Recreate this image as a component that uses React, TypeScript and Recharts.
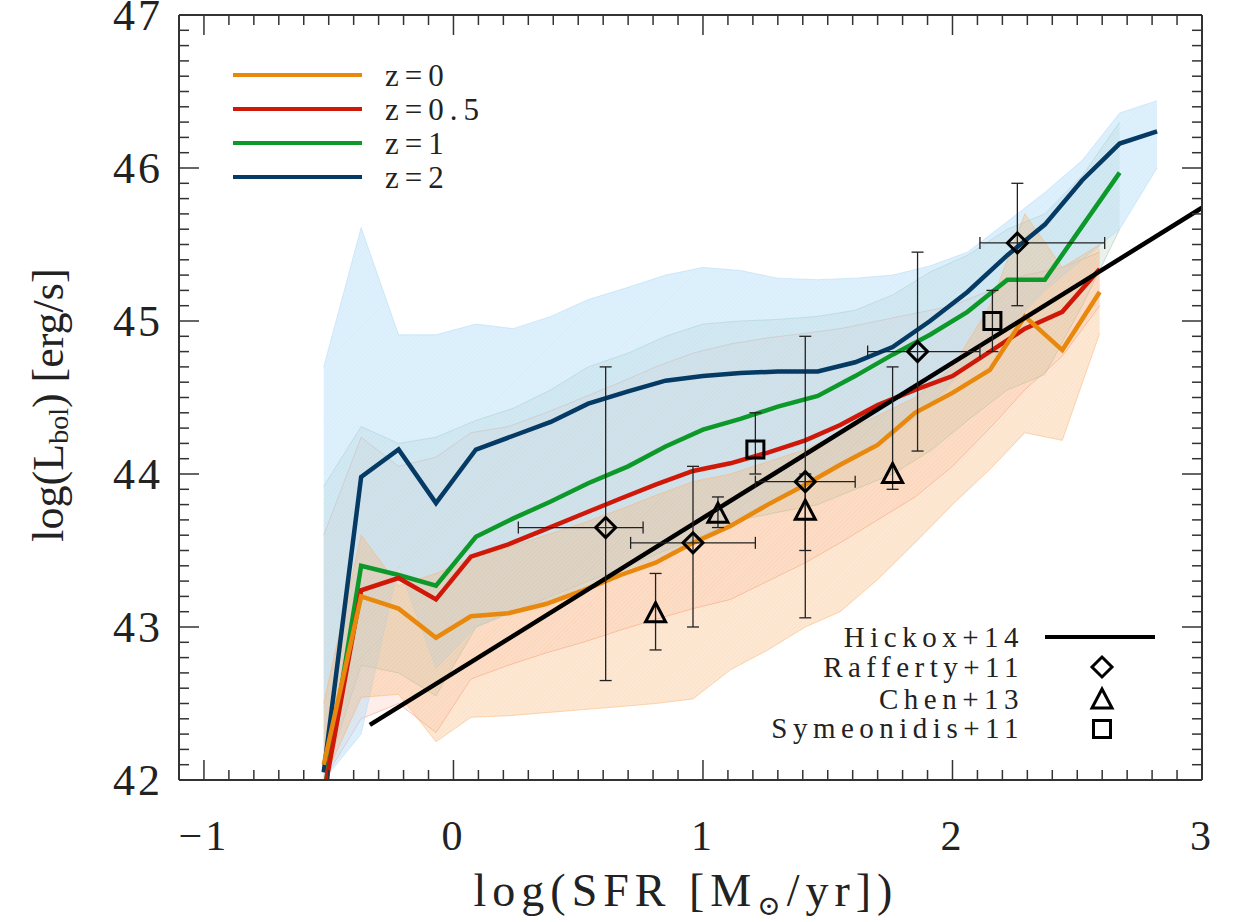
import React from 'react';
import { ComposedChart, Line, Area, Scatter, XAxis, YAxis, ErrorBar } from 'recharts';

const W = 1242;
const H = 922;
const FONT = "'Liberation Serif', 'DejaVu Serif', 'Times New Roman', serif";
const AXIS = '#333';

// SFR grid of the z=1 and z=2 runs
const xHighZ = [-0.52, -0.37, -0.22, -0.07, 0.09, 0.24, 0.39, 0.54, 0.7, 0.85, 1.0, 1.15, 1.3, 1.46, 1.61, 1.76, 1.91, 2.06, 2.22, 2.37, 2.52, 2.67, 2.82];
// SFR grid of the z=0 and z=0.5 runs
const xLowZ = [-0.52, -0.37, -0.22, -0.07, 0.07, 0.22, 0.37, 0.52, 0.67, 0.81, 0.96, 1.11, 1.26, 1.41, 1.55, 1.7, 1.85, 2.0, 2.15, 2.29, 2.44, 2.59];

const z2 = [42.05, 43.98, 44.16, 43.81, 44.16, 44.25, 44.34, 44.46, 44.54, 44.61, 44.64, 44.66, 44.67, 44.67, 44.73, 44.83, 45.0, 45.19, 45.43, 45.63, 45.92, 46.16, 46.24];
const z2Hi = [44.7, 45.61, 44.91, 44.91, 44.98, 44.95, 45.03, 45.14, 45.22, 45.3, 45.35, 45.33, 45.28, 45.27, 45.28, 45.3, 45.36, 45.45, 45.65, 45.84, 46.05, 46.36, 46.44];
const z2Lo = [42.0, 42.3, 43.4, 42.73, 43.0, 43.1, 43.18, 43.27, 43.38, 43.47, 43.6, 43.72, 43.85, 43.97, 44.1, 44.25, 44.45, 44.7, 44.95, 45.2, 45.4, 45.6, 46.0];

const z1 = [41.9, 43.4, 43.34, 43.27, 43.59, 43.71, 43.82, 43.94, 44.05, 44.18, 44.29, 44.36, 44.44, 44.51, 44.64, 44.78, 44.91, 45.06, 45.27, 45.27, 45.62, 45.97];
const z1Hi = [43.92, 44.31, 44.2, 44.24, 44.35, 44.43, 44.55, 44.7, 44.79, 44.9, 44.98, 45.0, 45.01, 45.03, 45.07, 45.17, 45.32, 45.43, 45.6, 45.7, 45.95, 46.3];
const z1Lo = [42.0, 42.75, 42.7, 42.55, 43.0, 43.1, 43.2, 43.3, 43.4, 43.5, 43.6, 43.7, 43.75, 43.8, 43.9, 44.0, 44.15, 44.35, 44.55, 44.65, 45.1, 45.6];

const z05 = [41.9, 43.24, 43.32, 43.18, 43.46, 43.54, 43.64, 43.74, 43.84, 43.93, 44.02, 44.07, 44.14, 44.22, 44.32, 44.45, 44.55, 44.64, 44.8, 44.95, 45.06, 45.34];
const z05Hi = [43.6, 44.24, 44.05, 44.11, 44.27, 44.31, 44.4, 44.5, 44.6, 44.7, 44.79, 44.85, 44.89, 44.92, 44.95, 45.0, 45.05, 45.1, 45.2, 45.3, 45.35, 45.45];
const z05Lo = [42.0, 42.4, 42.5, 42.31, 42.66, 42.75, 42.83, 42.9, 42.98, 43.05, 43.12, 43.18, 43.3, 43.42, 43.55, 43.7, 43.85, 44.05, 44.3, 44.55, 44.77, 45.1];

const z0 = [42.1, 43.2, 43.12, 42.93, 43.07, 43.09, 43.15, 43.24, 43.34, 43.42, 43.55, 43.66, 43.8, 43.93, 44.06, 44.19, 44.4, 44.53, 44.68, 45.03, 44.81, 45.19];
const z0Hi = [42.5, 43.6, 43.27, 43.35, 43.45, 43.52, 43.6, 43.68, 43.77, 43.86, 43.95, 44.0, 44.08, 44.16, 44.27, 44.38, 44.5, 44.7, 45.1, 45.7, 45.35, 45.5];
const z0Lo = [42.0, 42.54, 42.56, 42.25, 42.41, 42.42, 42.44, 42.46, 42.48, 42.5, 42.53, 42.72, 42.85, 43.0, 43.1, 43.31, 43.55, 43.8, 44.03, 44.27, 44.22, 44.92];

// Hickox+14 relation, end points
const hickoxX = [-0.335, 3.0];
const hickoxY = [42.36, 45.74];

// observations: x, y, x error [lo, hi], y error [lo, hi]
const rafferty = [
  { x: 0.61, y: 43.65, ex: [0.35, 0.15], ey: [1.0, 1.05] },
  { x: 0.96, y: 43.55, ex: [0.25, 0.25], ey: [0.55, 0.5] },
  { x: 1.41, y: 43.95, ex: [0.2, 0.2], ey: [0.89, 0.95] },
  { x: 1.86, y: 44.8, ex: [0.2, 0.25], ey: [0.65, 0.65] },
  { x: 2.26, y: 45.51, ex: [0.15, 0.35], ey: [0.41, 0.39] },
];
const chen = [
  { x: 0.81, y: 43.08, ey: [0.23, 0.27] },
  { x: 1.06, y: 43.73, ey: [0.08, 0.12] },
  { x: 1.41, y: 43.75, ey: [0.25, 0.25] },
  { x: 1.76, y: 43.99, ey: [0.09, 0.71] },
];
const symeonidis = [
  { x: 1.21, y: 44.16, ey: [0.16, 0.24] },
  { x: 2.16, y: 45.0, ey: [0.2, 0.2] },
];

const xMajor = [-1, 0, 1, 2, 3];
const yMajor = [42, 43, 44, 45, 46, 47];

const series = [
  { key: 'z0', label: 'z=0', color: '#E8880C', band: '#F9B270', op: 0.35 },
  { key: 'z05', label: 'z=0.5', color: '#D01808', band: '#F7907A', op: 0.17 },
  { key: 'z1', label: 'z=1', color: '#0C992A', band: '#9CC4AE', op: 0.24 },
  { key: 'z2', label: 'z=2', color: '#043A64', band: '#B0DAF6', op: 0.5 },
];
// bands painted red, green, blue, then orange on top
const bandOrder = ['z05', 'z1', 'z2', 'z0'];

// merged table on the union of x values
const rowMap = new Map<string, any>();
const put = (xs: number[], key: string, vals: any[]) => {
  xs.forEach((x, i) => {
    if (i >= vals.length) return;
    const k = x.toFixed(3);
    const r = rowMap.get(k) ?? { x };
    r[key] = vals[i];
    rowMap.set(k, r);
  });
};
put(xLowZ, 'z0', z0);
put(xLowZ, 'z0band', z0Lo.map((l, i) => [l, z0Hi[i]]));
put(xLowZ, 'z05', z05);
put(xLowZ, 'z05band', z05Lo.map((l, i) => [l, z05Hi[i]]));
put(xHighZ, 'z1', z1);
put(xHighZ, 'z1band', z1Lo.map((l, i) => [l, z1Hi[i]]));
put(xHighZ, 'z2', z2);
put(xHighZ, 'z2band', z2Lo.map((l, i) => [l, z2Hi[i]]));
put(hickoxX, 'hickox', hickoxY);
const table = Array.from(rowMap.values()).sort((a, b) => a.x - b.x);

const xTicks: number[] = [];
for (let i = -10; i <= 30; i++) xTicks.push(i / 10);
const yTicks: number[] = [];
for (let i = 420; i <= 470; i++) yTicks.push(i / 10);

const isMajor = (v: number) => Math.abs(v - Math.round(v)) < 1e-6;
const fmt = (v: number) => (v < 0 ? '\u2212' : '') + Math.abs(Math.round(v));
const txt = { fontFamily: FONT, fill: '#222' } as React.CSSProperties;

const tickBottom = (p: any) => {
  const { x, y, payload } = p;
  const major = isMajor(payload.value);
  return (
    <g>
      <line x1={x} x2={x} y1={y} y2={y - (major ? 20 : 10)} stroke={AXIS} strokeWidth={1.5} />
      {major && xMajor.includes(Math.round(payload.value)) && (
        <text x={x} y={y + 56} textAnchor="middle" dominantBaseline="central" fontSize={42} letterSpacing={3} style={txt}>
          {fmt(payload.value)}
        </text>
      )}
    </g>
  );
};
const tickTop = (p: any) => {
  const { x, y, payload } = p;
  const major = isMajor(payload.value);
  return <line x1={x} x2={x} y1={y} y2={y + (major ? 20 : 10)} stroke={AXIS} strokeWidth={1.5} />;
};
const tickLeft = (p: any) => {
  const { x, y, payload } = p;
  const major = isMajor(payload.value);
  return (
    <g>
      <line x1={x} x2={x + (major ? 20 : 10)} y1={y} y2={y} stroke={AXIS} strokeWidth={1.5} />
      {major && yMajor.includes(Math.round(payload.value)) && (
        <text x={x - 16} y={y} textAnchor="end" dominantBaseline="central" fontSize={44} letterSpacing={3} style={txt}>
          {fmt(payload.value)}
        </text>
      )}
    </g>
  );
};
const tickRight = (p: any) => {
  const { x, y, payload } = p;
  const major = isMajor(payload.value);
  return <line x1={x} x2={x - (major ? 20 : 10)} y1={y} y2={y} stroke={AXIS} strokeWidth={1.5} />;
};

const Diamond = ({ cx, cy }: any) => (
  <polygon points={`${cx},${cy - 10} ${cx + 10},${cy} ${cx},${cy + 10} ${cx - 10},${cy}`} fill="none" stroke="#000" strokeWidth={3} />
);
const Triangle = ({ cx, cy }: any) => (
  <polygon points={`${cx},${cy - 12} ${cx + 10},${cy + 7} ${cx - 10},${cy + 7}`} fill="none" stroke="#000" strokeWidth={3} />
);
const Square = ({ cx, cy }: any) => (
  <rect x={cx - 8.5} y={cy - 8.5} width={17} height={17} fill="none" stroke="#000" strokeWidth={3} />
);

const errProps = { stroke: '#222', strokeWidth: 1.3, width: 6 };

export default function App() {
  return (
    <div style={{ position: 'absolute', left: 0, top: 0, width: W, height: H, background: '#fff' }}>
      <ComposedChart width={W} height={H} data={table} margin={{ top: 10, right: 30, bottom: 132, left: 119 }}>
        <defs>
          {series.map((s) => (
            <pattern key={s.key} id={`hatch-${s.key}`} width={3} height={3} patternUnits="userSpaceOnUse" patternTransform="rotate(45)">
              <rect width={3} height={3} fill={s.band} fillOpacity={s.op * 0.85} />
              <line x1={0} y1={0} x2={0} y2={3} stroke={s.band} strokeOpacity={s.op * 0.6} strokeWidth={1} />
            </pattern>
          ))}
        </defs>
        <XAxis dataKey="x" type="number" domain={[-1.1, 3]} allowDataOverflow ticks={xTicks} interval={0} height={10}
          tickSize={0} tickMargin={0} tickLine={false} axisLine={{ stroke: AXIS, strokeWidth: 2 }} tick={tickBottom} />
        <XAxis xAxisId="top" orientation="top" dataKey="x" type="number" domain={[-1.1, 3]} allowDataOverflow ticks={xTicks} interval={0} height={5}
          tickSize={0} tickMargin={0} tickLine={false} axisLine={{ stroke: AXIS, strokeWidth: 2 }} tick={tickTop} />
        <YAxis dataKey="y" type="number" domain={[42, 47]} allowDataOverflow ticks={yTicks} interval={0} width={60}
          tickSize={0} tickMargin={0} tickLine={false} axisLine={{ stroke: AXIS, strokeWidth: 2 }} tick={tickLeft} />
        <YAxis yAxisId="right" orientation="right" type="number" domain={[42, 47]} allowDataOverflow ticks={yTicks} interval={0} width={10}
          tickSize={0} tickMargin={0} tickLine={false} axisLine={{ stroke: AXIS, strokeWidth: 2 }} tick={tickRight} />

        {bandOrder.map((k) => {
          const s = series.find((e) => e.key === k)!;
          return (
            <Area key={`${k}band`} dataKey={`${k}band`} type="linear" fill={`url(#hatch-${k})`} fillOpacity={1}
              stroke={s.band} strokeOpacity={0.5} strokeWidth={1} connectNulls isAnimationActive={false} />
          );
        })}
        {[...series].reverse().map((s) => (
          <Line key={s.key} dataKey={s.key} type="linear" stroke={s.color} strokeWidth={4.5} dot={false} connectNulls isAnimationActive={false} />
        ))}
        <Line dataKey="hickox" type="linear" stroke="#000" strokeWidth={4.5} dot={false} connectNulls isAnimationActive={false} />

        <Scatter data={rafferty} dataKey="y" shape={Diamond} isAnimationActive={false}>
          <ErrorBar dataKey="ex" direction="x" {...errProps} />
          <ErrorBar dataKey="ey" direction="y" {...errProps} />
        </Scatter>
        <Scatter data={chen} dataKey="y" shape={Triangle} isAnimationActive={false}>
          <ErrorBar dataKey="ey" direction="y" {...errProps} />
        </Scatter>
        <Scatter data={symeonidis} dataKey="y" shape={Square} isAnimationActive={false}>
          <ErrorBar dataKey="ey" direction="y" {...errProps} />
        </Scatter>
      </ComposedChart>

      <svg width={W} height={H} style={{ position: 'absolute', left: 0, top: 0, pointerEvents: 'none', fontFamily: FONT }}>
        {series.map((s, i) => (
          <g key={s.key}>
            <line x1={233} x2={362} y1={75 + i * 34} y2={75 + i * 34} stroke={s.color} strokeWidth={4} />
            <text x={385} y={75 + i * 34} dominantBaseline="central" fontSize={31} letterSpacing={6} style={txt}>
              {s.label}
            </text>
          </g>
        ))}

        {['Hickox+14', 'Rafferty+11', 'Chen+13', 'Symeonidis+11'].map((t, i) => (
          <text key={t} x={1024} y={[637, 667, 699, 728][i]} textAnchor="end" dominantBaseline="central" fontSize={29} letterSpacing={5.5} style={txt}>
            {t}
          </text>
        ))}
        <line x1={1045} x2={1155} y1={637} y2={637} stroke="#000" strokeWidth={4} />
        <Diamond cx={1102} cy={667} />
        <Triangle cx={1102} cy={701} />
        <Square cx={1102} cy={729} />

        <text x={686} y={906} textAnchor="middle" fontSize={46} letterSpacing={6} style={txt}>
          log(SFR [M<tspan fontSize={28} dy={9}>⊙</tspan><tspan dy={-9}>/yr])</tspan>
        </text>
        <text transform="translate(48,405) rotate(-90)" textAnchor="middle" dominantBaseline="central" fontSize={44} letterSpacing={0} style={txt}>
          log(L<tspan fontSize={28} dy={10}>bol</tspan><tspan dy={-10}>) [erg/s]</tspan>
        </text>
      </svg>
    </div>
  );
}
